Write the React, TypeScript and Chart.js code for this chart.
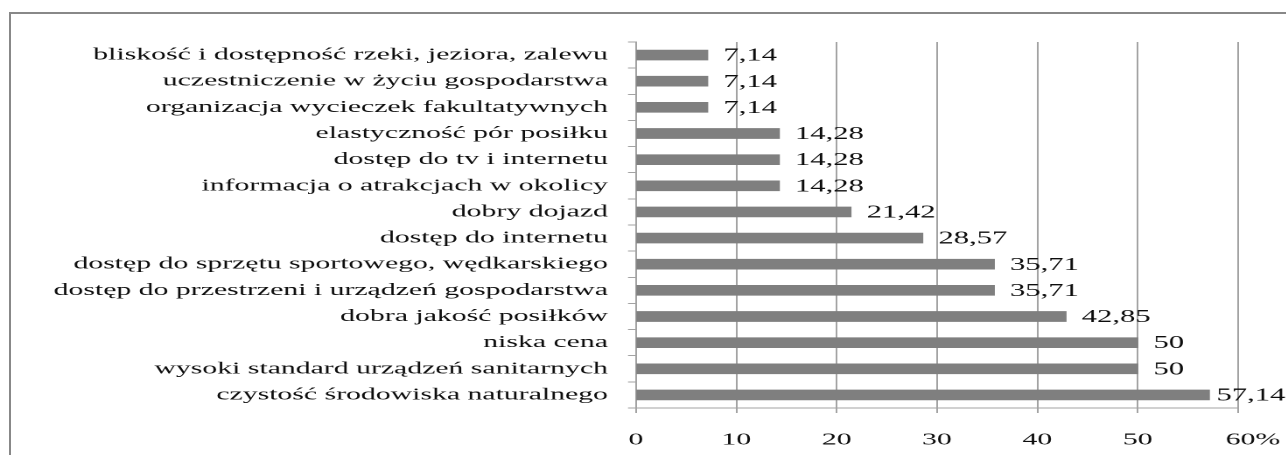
import React, { useEffect, useRef } from 'react';
import { Chart, registerables } from 'chart.js';

Chart.register(...registerables);

const categories = [
  'bliskość i dostępność rzeki, jeziora, zalewu',
  'uczestniczenie w życiu gospodarstwa',
  'organizacja wycieczek fakultatywnych',
  'elastyczność pór posiłku',
  'dostęp do tv i internetu',
  'informacja o atrakcjach w okolicy',
  'dobry dojazd',
  'dostęp do internetu',
  'dostęp do sprzętu sportowego, wędkarskiego',
  'dostęp do przestrzeni i urządzeń gospodarstwa',
  'dobra jakość posiłków',
  'niska cena',
  'wysoki standard urządzeń sanitarnych',
  'czystość środowiska naturalnego',
];

const values = [7.14, 7.14, 7.14, 14.28, 14.28, 14.28, 21.42, 28.57, 35.71, 35.71, 42.85, 50, 50, 57.14];

const valueLabels = ['7,14', '7,14', '7,14', '14,28', '14,28', '14,28', '21,42', '28,57', '35,71', '35,71', '42,85', '50', '50', '57,14'];

const xTickLabels = ['0', '10', '20', '30', '40', '50', '\u200360%'];

const K = 1.75;
const CW = 735;
const CH = 455;
const FONT_FAMILY = "'Liberation Serif', 'Times New Roman', serif";
const TEXT = '#0d0d0d';
const LINE = '#a3a3a3';

export default function App() {
  const ref = useRef<HTMLCanvasElement>(null);

  useEffect(() => {
    if (!ref.current) return;
    const font = { family: FONT_FAMILY, size: 17 };
    const valuePlugin = {
      id: 'valueLabels',
      afterDatasetsDraw(chart: any) {
        const ctx = chart.ctx;
        const meta = chart.getDatasetMeta(0);
        ctx.save();
        ctx.font = `17.5px ${FONT_FAMILY}`;
        ctx.fillStyle = TEXT;
        ctx.textAlign = 'left';
        ctx.textBaseline = 'middle';
        meta.data.forEach((el: any, i: number) => {
          const w = ctx.measureText(valueLabels[i]).width;
          const x = Math.min(el.x + 9, chart.width - w - 0.5);
          ctx.fillText(valueLabels[i], x, el.y + 1);
        });
        ctx.restore();
      },
    };
    const chart = new Chart(ref.current, {
      type: 'bar',
      data: {
        labels: categories,
        datasets: [
          {
            data: values,
            backgroundColor: '#7f7f7f',
            barThickness: 10,
          },
        ],
      },
      options: {
        indexAxis: 'y',
        responsive: false,
        animation: false,
        devicePixelRatio: 2,
        layout: { padding: { left: 0, top: 42, right: 27.57, bottom: 0 } },
        plugins: { legend: { display: false }, tooltip: { enabled: false } },
        scales: {
          x: {
            min: 0,
            max: 60,
            ticks: {
              stepSize: 10,
              callback: (_v: any, i: number) => xTickLabels[i],
              font: { family: FONT_FAMILY, size: 17, lineHeight: '48px' },
              color: TEXT,
              padding: 3,
              maxRotation: 0,
            },
            grid: { color: LINE, tickLength: 5 },
            border: { color: LINE },
            afterFit: (s: any) => {
              s.height = 47;
            },
          },
          y: {
            ticks: { font, color: TEXT, padding: 11.46, autoSkip: false },
            grid: { drawOnChartArea: false, tickLength: 4.57, color: LINE },
            border: { color: LINE },
            afterFit: (s: any) => {
              s.width = 363.43;
            },
          },
        },
      } as any,
      plugins: [valuePlugin],
    });
    return () => chart.destroy();
  }, []);

  return (
    <div
      style={{
        position: 'fixed',
        left: 0,
        top: 0,
        width: 1286,
        height: 455,
        overflow: 'hidden',
        background: '#fff',
      }}
    >
      <div
        style={{
          position: 'absolute',
          left: 9,
          top: 12,
          width: 1400,
          height: 600,
          borderTop: '2px solid #888',
          borderLeft: '2px solid #888',
        }}
      />
      <div
        style={{
          position: 'absolute',
          left: 0,
          top: 0,
          width: CW,
          height: CH,
          transform: `scaleX(${K})`,
          transformOrigin: '0 0',
        }}
      >
        <canvas ref={ref} width={CW} height={CH} style={{ display: 'block' }} />
      </div>
    </div>
  );
}
